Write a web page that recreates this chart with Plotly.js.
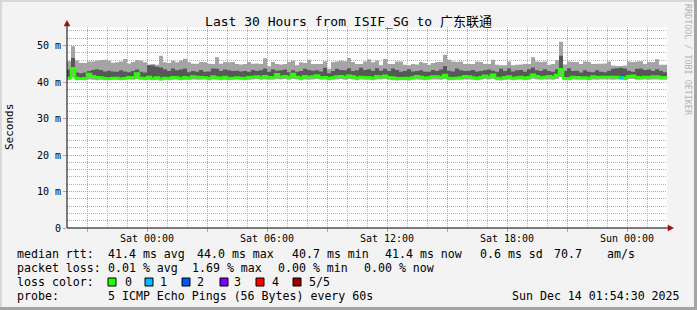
<!DOCTYPE html>
<html><head><meta charset="utf-8">
<script src="https://cdn.plot.ly/plotly-3.0.1.min.js"></script>
<style>html,body{margin:0;padding:0;background:#f3f3f3;overflow:hidden}#chart{width:697px;height:310px}</style>
</head><body><div id="chart"></div>
<script>
// ---- data (12-minute bins, 150 bins, starting Fri 2025-12-12 20:00) ----
const binStartUTC = Date.UTC(2025, 11, 12, 20, 0, 0);
const binMinutes = 12;

const minPing = [
40.6,41.2,40.5,40.6,40.5,40.7,40.6,40.5,40.6,40.5,
40.5,40.6,40.6,40.5,40.6,40.7,40.6,40.8,40.6,40.5,
40.6,40.5,40.6,40.4,40.6,40.5,40.6,40.7,40.5,40.6,
40.6,40.7,40.6,40.6,40.7,40.5,40.7,40.6,40.5,40.6,
40.5,40.6,40.7,40.6,40.5,40.6,40.7,40.8,40.6,40.7,
40.6,40.6,40.8,40.7,40.8,40.6,40.8,40.7,40.5,40.7,
40.6,40.7,40.8,40.6,40.7,40.5,40.6,40.7,40.8,40.6,
40.8,40.7,40.5,40.7,40.6,40.6,40.5,40.7,40.7,40.8,
40.6,40.5,40.4,40.5,40.5,40.4,40.6,40.7,40.6,40.5,
40.6,40.7,40.7,40.6,40.8,40.5,40.5,40.6,40.6,40.7,
40.7,40.6,40.5,40.6,40.8,40.7,40.9,40.5,40.4,40.6,
40.7,40.5,40.6,40.7,40.5,40.6,40.9,40.7,40.6,40.7,
40.7,40.6,40.8,41.3,40.5,40.5,40.7,40.6,40.6,40.6,
40.5,40.7,40.6,40.7,40.7,40.7,40.6,40.7,40.6,40.5,
40.8,40.8,40.6,40.6,40.7,40.6,40.7,40.7,40.6,40.6];

const maxPing = [
45.7,49.8,45.8,45.3,45.2,45.6,45.6,45.9,46.0,46.1,
45.8,45.3,45.4,45.6,46.3,45.1,45.5,46.0,45.8,45.4,
44.8,44.9,44.7,47.2,45.4,45.2,45.8,45.4,45.9,46.4,
45.5,45.0,45.0,45.5,45.4,45.0,44.9,46.8,45.0,45.5,
45.4,45.5,44.9,44.8,44.9,45.5,45.0,45.1,44.9,46.5,
44.3,45.5,44.9,44.8,44.9,45.5,45.8,44.6,45.4,45.2,
46.1,44.9,44.9,44.9,45.7,43.6,45.5,45.6,45.8,45.7,
46.6,45.5,44.9,44.9,45.6,46.2,45.4,45.9,44.6,46.3,
44.9,44.9,45.6,45.6,44.7,44.6,44.9,44.8,45.5,45.2,
44.7,45.2,45.5,45.5,47.5,46.1,45.6,45.5,45.6,44.9,
44.9,44.9,45.6,45.5,44.9,44.9,46.1,44.7,44.6,44.6,
45.6,44.6,44.7,44.8,44.9,44.9,46.8,45.6,45.5,45.6,
44.7,44.9,46.0,51.0,44.8,45.6,45.5,45.5,44.9,45.6,
45.5,44.9,45.0,45.0,45.1,45.6,44.5,44.4,44.4,44.5,
45.6,45.5,45.6,45.7,44.9,45.5,45.4,46.2,44.7,44.7];

const upperPing = [
43.4,46.6,42.6,42.4,42.6,43.0,43.3,43.5,43.3,42.9,
43.1,42.9,42.8,43.2,42.9,42.7,43.0,43.4,42.8,42.6,
44.6,44.5,44.2,44.0,43.5,43.0,43.7,43.2,43.4,43.7,
42.7,43.0,42.8,43.3,42.8,42.9,43.7,43.6,43.0,43.4,
43.2,43.0,43.1,42.9,43.0,42.8,43.3,43.0,43.2,43.7,
42.8,43.5,43.1,43.2,43.4,42.7,43.2,42.8,43.0,43.6,
43.3,43.1,43.2,42.9,43.9,42.4,43.0,43.6,43.3,43.2,
43.8,43.0,43.2,43.9,43.3,43.5,43.0,43.8,43.1,43.6,
43.0,43.7,43.3,42.8,43.0,43.5,42.9,43.0,43.2,42.8,
42.8,43.3,43.0,43.4,44.4,43.1,42.9,43.7,43.2,43.0,
43.1,43.3,42.9,43.0,43.2,43.4,43.1,42.8,43.6,43.0,
43.7,42.9,43.2,43.3,42.8,43.5,44.0,43.2,43.0,43.5,
43.0,42.8,43.5,47.2,43.0,43.8,43.0,43.1,42.6,43.2,
42.8,42.7,43.2,42.8,42.7,43.1,43.6,43.8,43.9,43.7,
43.1,42.8,43.6,43.7,43.3,43.4,43.0,43.5,43.1,42.7];

const medianRtt = [
41.1,43.8,41.1,40.9,41.0,42.2,41.6,41.3,41.2,41.0,
40.9,41.1,41.1,40.9,41.0,41.3,41.2,42.3,41.1,41.0,
41.4,40.9,41.2,40.8,41.1,41.0,41.3,41.2,40.9,41.3,
41.0,41.5,41.4,41.3,41.2,41.0,41.5,41.2,41.1,41.4,
41.0,41.1,41.2,41.1,41.0,41.3,41.4,41.5,41.2,41.6,
41.3,41.2,42.1,41.4,41.6,41.3,42.2,41.4,41.1,41.6,
41.3,41.5,41.8,41.2,41.3,41.0,41.2,41.5,41.6,41.3,
41.7,41.5,41.1,41.4,41.2,41.3,41.0,41.6,41.4,41.7,
41.3,41.2,41.0,41.0,41.1,41.0,41.2,41.6,41.4,41.1,
41.2,41.5,41.5,41.3,41.9,41.1,41.0,41.1,41.2,41.6,
41.5,41.2,41.0,41.3,41.7,41.4,42.0,41.1,40.9,41.3,
41.5,41.0,41.2,41.4,41.1,41.3,42.0,41.6,41.2,41.4,
41.6,41.3,41.9,43.5,41.0,41.0,41.4,41.3,41.2,41.2,
41.0,41.5,41.3,41.4,41.4,41.4,41.4,41.4,41.2,41.1,
41.6,41.7,41.3,41.2,41.4,41.3,41.5,41.5,41.2,41.3];

// bins with lost pings (index, number lost of 5)
const lossBins = [138];
const lossValues = [1];

const lossColors = ['#26ff00','#00b8ff','#0059ff','#7e00ff','#ff0000','#a00000'];
const lossLabels = ['0','1','2','3','4','5/5'];

const yTickVals = [0,10,20,30,40,50];
const yTickText = ['0','10 m','20 m','30 m','40 m','50 m'];
const xTickVals = ['2025-12-12 21:00','2025-12-13 00:00','2025-12-13 03:00','2025-12-13 06:00','2025-12-13 09:00',
                   '2025-12-13 12:00','2025-12-13 15:00','2025-12-13 18:00','2025-12-13 21:00','2025-12-14 00:00'];
const xTickText = ['','Sat 00:00','','Sat 06:00','','Sat 12:00','','Sat 18:00','','Sun 00:00'];

const titleText = 'Last 30 Hours from ISIF_SG to 广东联通';
const statRows = [
  {y:254, items:[[16,'median rtt:'],[107,'41.4 ms avg'],[196,'44.0 ms max'],[291,'40.7 ms min'],[384,'41.4 ms now'],[479,'0.6 ms sd'],[553,'70.7'],[606,'am/s']]},
  {y:268, items:[[16,'packet loss:'],[107,'0.01 % avg'],[191,'1.69 % max'],[277,'0.00 % min'],[363,'0.00 % now']]},
  {y:282, items:[[16,'loss color:']]},
  {y:296, items:[[16,'probe:'],[107,'5 ICMP Echo Pings (56 Bytes) every 60s']]}
];
const stampText = 'Sun Dec 14 01:54:30 2025';
const lossBoxX = [108,145,182,220,256,293];
const lossLabelX = [124,159,196,233,271,308];

// ---- build ----
const N = medianRtt.length;
function fmt(ms){return new Date(ms).toISOString().slice(0,19).replace('T',' ');}
const xs = [];
for (let i=0;i<=N;i++) xs.push(fmt(binStartUTC + i*binMinutes*60000));
const ext = a => a.concat([a[a.length-1]]);

const L=67,R=667,T=27,B=228;
const px = x => (x-L)/(R-L);
const py = y => (B-y)/(B-T);
const mono = 'DejaVu Sans Mono, Noto Sans CJK SC, monospace';

const traces = [
  {x:xs,y:ext(minPing),type:'scatter',mode:'lines',line:{width:0,shape:'hv'},hoverinfo:'skip',showlegend:false},
  {x:xs,y:ext(maxPing),type:'scatter',mode:'lines',line:{width:0,shape:'hv'},fill:'tonexty',fillcolor:'#a4a4a4',hoverinfo:'skip',showlegend:false},
  {x:xs,y:ext(medianRtt),type:'scatter',mode:'lines',line:{width:0,shape:'hv'},hoverinfo:'skip',showlegend:false},
  {x:xs,y:ext(upperPing),type:'scatter',mode:'lines',line:{width:0,shape:'hv'},fill:'tonexty',fillcolor:'#585858',hoverinfo:'skip',showlegend:false},
  {x:xs,y:ext(medianRtt),type:'scatter',mode:'lines',line:{width:2.5,shape:'hv',color:lossColors[0]},showlegend:false}
];
for (let lv=1; lv<lossColors.length; lv++){
  const yy = new Array(N+1).fill(null);
  let any=false;
  lossBins.forEach((b,k)=>{ if(lossValues[k]===lv){ yy[b]=medianRtt[b]; yy[b+1]=medianRtt[b]; any=true; } });
  if(any) traces.push({x:xs,y:yy,type:'scatter',mode:'lines',line:{width:2.5,shape:'hv',color:lossColors[lv]},connectgaps:false,showlegend:false});
}

const annotations = [];
const shapes = [];
const txt = (x,y,t,opts)=>Object.assign({xref:'paper',yref:'paper',x:px(x),y:py(y),xanchor:'left',yanchor:'middle',showarrow:false,text:t,borderpad:0,font:{family:mono,size:11.6,color:'#000'}},opts||{});
statRows.forEach(r=>r.items.forEach(([x,t])=>annotations.push(txt(x,r.y,t))));
annotations.push(txt(681,296,stampText,{xanchor:'right'}));
lossLabels.forEach((t,i)=>{
  annotations.push(txt(lossLabelX[i],282,t));
  shapes.push({type:'rect',xref:'paper',yref:'paper',x0:px(lossBoxX[i]),x1:px(lossBoxX[i]+8),y0:py(278),y1:py(286),fillcolor:lossColors[i],line:{color:'#000',width:1}});
});
annotations.push(txt(10,127,'Seconds',{xanchor:'center',textangle:-90,font:{family:mono,size:11,color:'#000'}}));
annotations.push(txt(688,60,'RRDTOOL / TOBI OETIKER',{xanchor:'center',textangle:90,font:{family:mono,size:8.4,color:'#b4b4b4'}}));

// frame bevel
shapes.push({type:'rect',xref:'paper',yref:'paper',x0:px(0),x1:px(697),y0:py(0),y1:py(2),fillcolor:'#d8d8d8',line:{width:0},layer:'above'});
shapes.push({type:'rect',xref:'paper',yref:'paper',x0:px(0),x1:px(2),y0:py(0),y1:py(310),fillcolor:'#d8d8d8',line:{width:0},layer:'above'});
shapes.push({type:'rect',xref:'paper',yref:'paper',x0:px(0),x1:px(697),y0:py(307),y1:py(310),fillcolor:'#a4a4a4',line:{width:0},layer:'above'});
shapes.push({type:'rect',xref:'paper',yref:'paper',x0:px(694),x1:px(697),y0:py(0),y1:py(310),fillcolor:'#a4a4a4',line:{width:0},layer:'above'});
// axes lines and arrows
shapes.push({type:'line',xref:'paper',yref:'paper',x0:px(67),x1:px(67),y0:py(228),y1:py(24),line:{color:'#000',width:1},layer:'above'});
shapes.push({type:'line',xref:'paper',yref:'paper',x0:px(67),x1:px(670),y0:py(228),y1:py(228),line:{color:'#000',width:1},layer:'above'});
shapes.push({type:'path',xref:'paper',yref:'paper',path:`M ${px(67)} ${py(20.5)} L ${px(64)} ${py(26)} L ${px(70)} ${py(26)} Z`,fillcolor:'#a01010',line:{color:'#a01010',width:0.5},layer:'above'});
shapes.push({type:'path',xref:'paper',yref:'paper',path:`M ${px(673.5)} ${py(228)} L ${px(668)} ${py(225)} L ${px(668)} ${py(231)} Z`,fillcolor:'#a01010',line:{color:'#a01010',width:0.5},layer:'above'});

const layout = {
  width:697,height:310,
  margin:{l:L,r:697-R,t:T,b:310-B,pad:0},
  paper_bgcolor:'#f3f3f3',plot_bgcolor:'#ffffff',
  showlegend:false,
  title:{text:titleText,x:0.5,xref:'container',y:1-21/310,yref:'container',yanchor:'middle',font:{family:mono,size:13,color:'#000'}},
  xaxis:{type:'date',range:[xs[0],xs[N]],tickmode:'array',tickvals:xTickVals,ticktext:xTickText,
    showgrid:true,gridcolor:'#e48c8c',griddash:'1px,1px',gridwidth:1,
    ticks:'outside',ticklen:3,tickcolor:'#e48c8c',ticklabelstandoff:-2,
    minor:{tickmode:'linear',tick0:'2025-12-12 20:00',dtick:3600000,showgrid:true,gridcolor:'#b4b4b4',griddash:'1px,1px',gridwidth:1,ticks:''},
    showline:false,zeroline:false,fixedrange:true,
    tickfont:{family:mono,size:10,color:'#000'}},
  yaxis:{range:[0,(B-T)/3.65],tickmode:'array',tickvals:yTickVals,ticktext:yTickText,
    showgrid:true,gridcolor:'#e48c8c',griddash:'1px,1px',gridwidth:1,
    ticks:'outside',ticklen:3,tickcolor:'#e48c8c',
    minor:{tickmode:'linear',tick0:0,dtick:2,showgrid:true,gridcolor:'#b4b4b4',griddash:'1px,1px',gridwidth:1,ticks:''},
    showline:false,zeroline:false,fixedrange:true,
    tickfont:{family:mono,size:10,color:'#000'}},
  annotations:annotations,
  shapes:shapes
};
Plotly.newPlot('chart',traces,layout,{staticPlot:true,displayModeBar:false});
</script></body></html>
